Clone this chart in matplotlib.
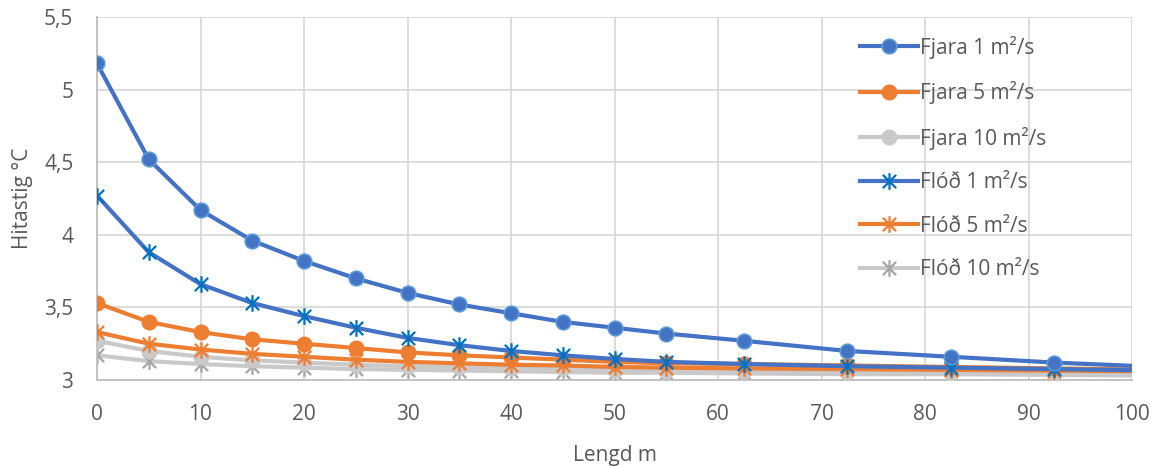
import matplotlib.pyplot as plt
from matplotlib.path import Path
from matplotlib.ticker import FuncFormatter, MultipleLocator

# Lengd (m) og hitastig (°C) fyrir hverja keyrslu
lengd = [0, 5, 10, 15, 20, 25, 30, 35, 40, 45, 50, 55, 62.5, 72.5, 82.5, 92.5, 102.5]

fjara_1 = [5.18, 4.52, 4.17, 3.96, 3.82, 3.70, 3.60, 3.52, 3.46, 3.40, 3.36, 3.32,
           3.27, 3.20, 3.16, 3.12, 3.09]
fjara_5 = [3.53, 3.40, 3.33, 3.28, 3.25, 3.22, 3.19, 3.17, 3.155, 3.14, 3.125, 3.115,
           3.11, 3.10, 3.09, 3.08, 3.07]
fjara_10 = [3.27, 3.20, 3.16, 3.135, 3.12, 3.105, 3.095, 3.09, 3.085, 3.08, 3.07, 3.065,
            3.06, 3.055, 3.05, 3.045, 3.04]
flod_1 = [4.27, 3.88, 3.66, 3.53, 3.44, 3.36, 3.29, 3.24, 3.20, 3.17, 3.145, 3.125,
          3.11, 3.095, 3.085, 3.075, 3.065]
flod_5 = [3.33, 3.25, 3.21, 3.18, 3.16, 3.14, 3.125, 3.115, 3.105, 3.10, 3.09, 3.085,
          3.08, 3.075, 3.07, 3.065, 3.06]
flod_10 = [3.17, 3.13, 3.11, 3.095, 3.085, 3.075, 3.07, 3.065, 3.06, 3.055, 3.05, 3.05,
           3.045, 3.04, 3.04, 3.035, 3.03]

plt.rcParams['font.family'] = ['Open Sans', 'DejaVu Sans']
txt = '#595959'

fig = plt.figure(figsize=(11.55, 4.66), dpi=100)
ax = fig.add_axes([97 / 1155, 1 - 380 / 466, (1132 - 97) / 1155, (380 - 17) / 466])

blue, orange, gray = '#4472C4', '#ED7D31', '#C9C9C9'

# stjörnumerki: X með lóðréttu striki
star = Path([(-1, -1), (1, 1), (-1, 1), (1, -1), (0, -1.25), (0, 1.25)],
            [Path.MOVETO, Path.LINETO] * 3)

lw = 3.0
ax.plot(lengd, fjara_1, color=blue, lw=lw, marker='o', ms=10.5, mfc=blue, mec='#5B9BD5',
        mew=1.2, label='Fjara 1 m²/s', zorder=7)
ax.plot(lengd, fjara_5, color=orange, lw=lw, marker='o', ms=10.5, mfc=orange, mec=orange,
        label='Fjara 5 m²/s', zorder=5)
ax.plot(lengd, fjara_10, color=gray, lw=lw, marker='o', ms=10.5, mfc=gray, mec=gray,
        label='Fjara 10 m²/s', zorder=3)
ax.plot(lengd, flod_1, color=blue, lw=lw, marker=star, ms=12, mec='#0070C0',
        mew=1.6, label='Flóð 1 m²/s', zorder=6)
ax.plot(lengd, flod_5, color=orange, lw=lw, marker=star, ms=12, mec=orange, mew=1.6,
        label='Flóð 5 m²/s', zorder=4)
ax.plot(lengd, flod_10, color=gray, lw=lw, marker=star, ms=12, mec='#A5A5A5', mew=1.6,
        label='Flóð 10 m²/s', zorder=2)

ax.set_xlim(0, 100)
ax.set_ylim(3, 5.5)
ax.xaxis.set_major_locator(MultipleLocator(10))
ax.yaxis.set_major_locator(MultipleLocator(0.5))
ax.yaxis.set_major_formatter(FuncFormatter(lambda v, p: f'{v:g}'.replace('.', ',')))

ax.grid(True, color='#D9D9D9', lw=1.3)
ax.set_axisbelow(True)
for s in ['top', 'right']:
    ax.spines[s].set_visible(False)
for s in ['left', 'bottom']:
    ax.spines[s].set_color('#BFBFBF')
    ax.spines[s].set_linewidth(1.3)
ax.tick_params(length=0, labelsize=15, colors=txt)
ax.tick_params(axis='x', pad=17)
ax.tick_params(axis='y', pad=17)

ax.set_xlabel('Lengd m', fontsize=15, color=txt, labelpad=15)
ax.set_ylabel('Hitastig °C', fontsize=15, color=txt, labelpad=8)

leg = ax.legend(loc='upper left', bbox_to_anchor=(0.719, 1.0), frameon=False,
                fontsize=15, labelcolor=txt, handlelength=2.8, labelspacing=1.08,
                handletextpad=0.1)

fig.savefig('out.png', dpi=100)
